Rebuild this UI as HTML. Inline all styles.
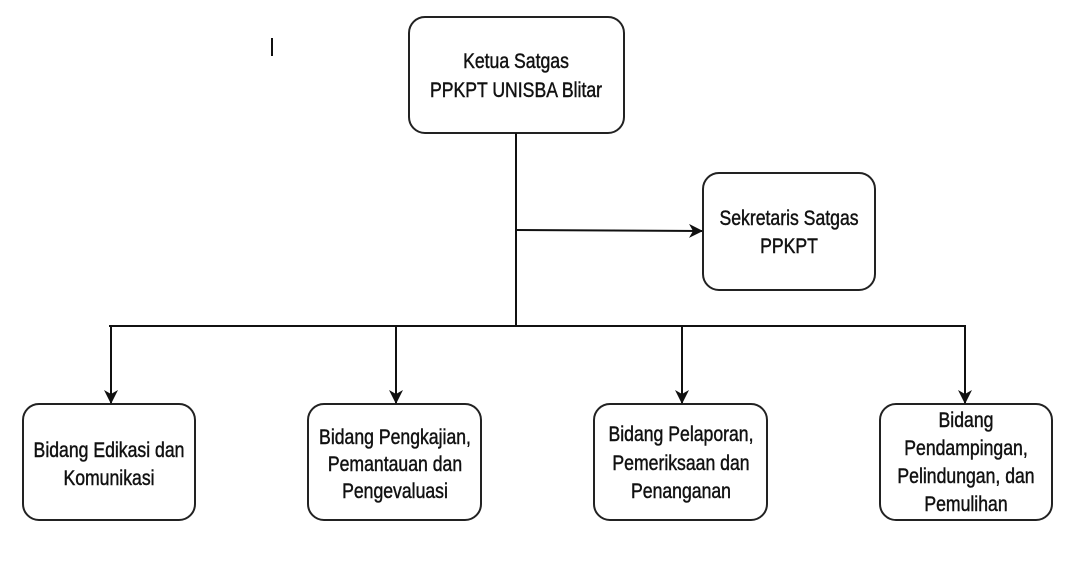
<!DOCTYPE html>
<html><head><meta charset="utf-8"><style>
html,body{margin:0;padding:0;background:#fff;}
svg text{font-family:"Liberation Sans",sans-serif;font-size:21px;fill:#111;stroke:#111;stroke-width:0.45;text-anchor:middle;}
</style></head><body>
<svg width="1085" height="562" viewBox="0 0 1085 562" xmlns="http://www.w3.org/2000/svg">
<defs>
<marker id="b" markerWidth="14" markerHeight="14" refX="13" refY="7" orient="auto" markerUnits="userSpaceOnUse"><path d="M0,0 L14,7 L0,14 L4,7 z" fill="#111"/></marker></defs>
<g fill="#fff" stroke="#222" stroke-width="2">
<rect x="409" y="17" width="215" height="116" rx="16"/>
<rect x="703" y="173" width="172" height="117" rx="16"/>
<rect x="23" y="404" width="172" height="116" rx="16"/>
<rect x="308" y="404" width="173" height="116" rx="16"/>
<rect x="594" y="404" width="173" height="116" rx="16"/>
<rect x="880" y="404" width="172" height="116" rx="16"/>
</g>
<g stroke="#111" stroke-width="2" fill="none">
<line x1="516" y1="133" x2="516" y2="326"/>
<line x1="516" y1="230" x2="702" y2="231" marker-end="url(#b)"/>
<line x1="109" y1="326" x2="966" y2="326"/>
<line x1="111" y1="326" x2="111" y2="403" marker-end="url(#b)"/>
<line x1="396" y1="326" x2="396" y2="403" marker-end="url(#b)"/>
<line x1="682" y1="326" x2="682" y2="403" marker-end="url(#b)"/>
<line x1="965" y1="326" x2="965" y2="403" marker-end="url(#b)"/>
<line x1="272" y1="38" x2="272" y2="56"/>
</g>
<text transform="translate(516,68) scale(0.84,1)">Ketua Satgas</text>
<text transform="translate(516,97) scale(0.84,1)">PPKPT UNISBA Blitar</text>
<text transform="translate(789,225) scale(0.84,1)">Sekretaris Satgas</text>
<text transform="translate(789,253) scale(0.84,1)">PPKPT</text>
<text transform="translate(109,457) scale(0.84,1)">Bidang Edikasi dan</text>
<text transform="translate(109,485) scale(0.84,1)">Komunikasi</text>
<text transform="translate(395,444) scale(0.84,1)">Bidang Pengkajian,</text>
<text transform="translate(395,471) scale(0.84,1)">Pemantauan dan</text>
<text transform="translate(395,498) scale(0.84,1)">Pengevaluasi</text>
<text transform="translate(681,441) scale(0.84,1)">Bidang Pelaporan,</text>
<text transform="translate(681,470) scale(0.84,1)">Pemeriksaan dan</text>
<text transform="translate(681,498) scale(0.84,1)">Penanganan</text>
<text transform="translate(966,427) scale(0.84,1)">Bidang</text>
<text transform="translate(966,455) scale(0.84,1)">Pendampingan,</text>
<text transform="translate(966,483) scale(0.84,1)">Pelindungan, dan</text>
<text transform="translate(966,511) scale(0.84,1)">Pemulihan</text>
</svg>
</body></html>
